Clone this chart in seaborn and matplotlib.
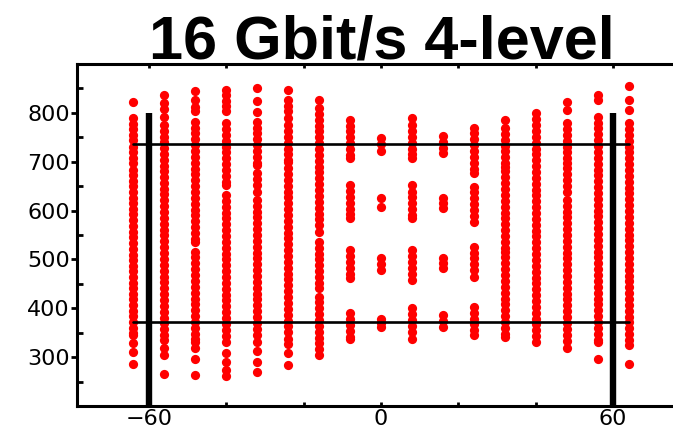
import numpy as np
import pandas as pd
import seaborn as sns
import matplotlib.pyplot as plt
from matplotlib.ticker import MultipleLocator

# column positions (x) and the dots read in each column (y)
col_x = [-64, -56, -48, -40, -32, -24, -16, -8, 0, 8, 16, 24, 32, 40, 48, 56, 64]
col_y = [
    [823, 789, 778, 766, 755, 744, 731, 720, 708, 697, 684, 672, 661, 650, 638, 626, 615, 603, 592, 580,
     568, 557, 545, 534, 522, 510, 499, 487, 476, 464, 452, 441, 430, 418, 406, 395, 384, 372, 360, 349,
     345, 329, 311, 285],
    [837, 820, 808, 792, 775, 763, 751, 740, 728, 716, 704, 692, 680, 668, 657, 645, 633, 621, 609, 597,
     585, 573, 561, 549, 537, 525, 513, 501, 489, 477, 465, 453, 441, 429, 417, 405, 393, 381, 369, 357,
     345, 335, 318, 304, 265],
    [844, 827, 813, 803, 782, 770, 758, 746, 734, 722, 710, 698, 686, 674, 662, 650, 638, 626, 614, 602,
     590, 578, 566, 554, 542, 536, 516, 504, 492, 480, 468, 456, 444, 432, 420, 408, 396, 384, 372, 360,
     348, 337, 332, 319, 296, 263],
    [847, 837, 825, 814, 803, 779, 767, 755, 743, 731, 719, 707, 695, 683, 671, 659, 653, 632, 620, 608,
     596, 584, 572, 560, 548, 536, 524, 512, 500, 488, 476, 464, 452, 440, 428, 416, 404, 392, 380, 368,
     356, 344, 332, 309, 291, 274, 261],
    [851, 825, 801, 782, 770, 758, 746, 734, 722, 710, 698, 694, 676, 664, 652, 639, 622, 610, 598, 586,
     574, 562, 550, 538, 526, 514, 502, 490, 478, 466, 454, 442, 430, 418, 406, 394, 382, 370, 358, 346,
     332, 312, 291, 269],
    [847, 827, 815, 803, 789, 775, 763, 751, 739, 727, 715, 703, 700, 687, 675, 663, 651, 639, 627, 615,
     603, 591, 579, 567, 555, 543, 531, 519, 507, 495, 483, 471, 459, 447, 435, 423, 411, 399, 387, 375,
     363, 351, 338, 326, 308, 284],
    [827, 810, 798, 786, 774, 762, 750, 738, 726, 714, 702, 690, 678, 666, 654, 642, 630, 618, 606, 594,
     582, 570, 557, 536, 524, 512, 500, 488, 476, 464, 452, 441, 424, 412, 400, 388, 376, 364, 352, 340,
     328, 316, 304],
    [786, 774, 762, 750, 738, 726, 714, 707, 652, 640, 628, 616, 604, 592, 584, 519, 507, 495, 483, 471,
     461, 390, 378, 366, 354, 342, 338],
    [748, 736, 721, 625, 608, 502, 490, 478, 379, 370, 362],
    [789, 775, 763, 751, 739, 727, 715, 707, 653, 639, 627, 615, 603, 591, 584, 519, 507, 495, 483, 471,
     458, 400, 388, 376, 364, 352, 338],
    [752, 740, 728, 717, 625, 615, 605, 502, 492, 482, 386, 374, 362],
    [769, 758, 746, 734, 722, 710, 698, 686, 676, 649, 637, 625, 613, 601, 589, 577, 526, 514, 502, 490,
     478, 465, 403, 391, 379, 367, 355, 345],
    [786, 769, 757, 745, 733, 721, 709, 697, 690, 680, 668, 656, 644, 632, 620, 608, 596, 584, 572, 560,
     548, 536, 523, 516, 504, 492, 480, 468, 456, 444, 432, 420, 408, 396, 384, 372, 360, 348, 342],
    [799, 787, 775, 763, 751, 739, 727, 715, 703, 691, 679, 667, 655, 643, 631, 619, 607, 595, 583, 571,
     559, 547, 535, 523, 511, 499, 487, 475, 463, 451, 439, 427, 415, 403, 391, 379, 367, 355, 343, 332],
    [823, 806, 779, 767, 755, 743, 731, 719, 707, 697, 687, 675, 663, 651, 639, 622, 610, 598, 586, 574,
     562, 550, 538, 526, 514, 502, 490, 478, 466, 454, 442, 430, 418, 406, 394, 382, 370, 358, 346, 334,
     318],
    [837, 827, 792, 780, 768, 756, 744, 732, 720, 708, 696, 684, 672, 660, 648, 636, 624, 612, 600, 588,
     576, 564, 552, 540, 528, 516, 504, 492, 480, 468, 456, 444, 432, 420, 408, 396, 384, 372, 360, 348,
     336, 332, 297],
    [854, 827, 806, 779, 767, 755, 743, 731, 719, 707, 695, 683, 671, 659, 647, 635, 623, 611, 599, 587,
     575, 563, 551, 539, 527, 515, 503, 491, 479, 467, 455, 443, 431, 419, 407, 395, 383, 371, 359, 347,
     335, 325, 285],
]

# threshold levels and the sampling window
level_y = [737, 371]
level_x = [-64, 64]
window_x = [-60, 60]
window_top = 800

xticks = [-60, 0, 60]
yticks = [300, 400, 500, 600, 700, 800]

df = pd.concat(
    [pd.DataFrame({"t": x, "v": ys}) for x, ys in zip(col_x, col_y)],
    ignore_index=True,
)

sns.set_style("ticks")
plt.rcParams["font.family"] = ["DejaVu Sans"]

fig = plt.figure(figsize=(6.73, 4.34), dpi=100)
ax = fig.add_axes([77 / 673, 28 / 434, 596 / 673, 342 / 434])

sns.scatterplot(data=df, x="t", y="v", color="#ff0000", s=44,
                linewidth=0, ax=ax, zorder=3)

for yl in level_y:
    ax.plot(level_x, [yl, yl], color="black", lw=1.9, zorder=4)
for xw in window_x:
    ax.vlines(xw, 200, window_top, color="black", lw=4.6, zorder=4)

ax.set_xlim(-78.6, 75.5)
ax.set_ylim(200, 900)
ax.set_xticks(xticks)
ax.set_xticklabels(["\u221260", "0", "60"])
ax.xaxis.set_minor_locator(MultipleLocator(20))
ax.set_yticks(yticks)
ax.yaxis.set_minor_locator(MultipleLocator(50))
ax.set_xlabel("")
ax.set_ylabel("")

for side in ["left", "bottom", "top"]:
    ax.spines[side].set_linewidth(2.2)
    ax.spines[side].set_color("black")
ax.spines["right"].set_visible(False)

ax.tick_params(axis="x", which="both", direction="in", top=True,
               length=3, width=2, labelsize=16, pad=2, colors="black")
ax.tick_params(axis="y", which="major", direction="out", length=4,
               width=2, labelsize=16, pad=1, colors="black")
ax.tick_params(axis="y", which="minor", direction="in", length=4,
               width=2, colors="black")

fig.text(382 / 673, 375 / 434, "16 Gbit/s 4-level", ha="center",
         va="baseline", fontsize=44, fontweight="bold", color="black",
         family=["Liberation Sans", "DejaVu Sans"])

fig.savefig("out.png", dpi=100)
